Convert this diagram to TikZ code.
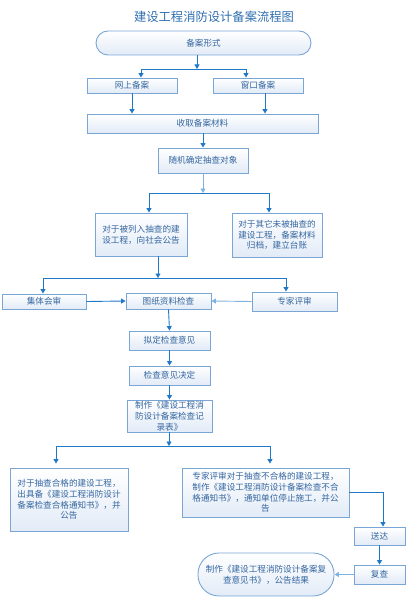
\documentclass[tikz,border=0pt]{standalone}
\usepackage{fontspec}
\setmainfont{Noto Sans CJK SC}
\usetikzlibrary{arrows.meta,calc}
\definecolor{bd}{HTML}{7AA6D6}
\definecolor{ln}{HTML}{1F78C8}
\definecolor{lnl}{HTML}{7FB2E0}
\definecolor{tx}{HTML}{3566A0}
\definecolor{fb}{HTML}{E2EBF7}
\definecolor{tt}{HTML}{2F6EB0}
\begin{document}
\begin{tikzpicture}[x=1pt,y=-1pt,
  box/.style={draw=bd,line width=0.9pt,top color=white,bottom color=fb,text=tx,
    font=\fontsize{8.6}{10.8}\selectfont,align=center,inner sep=1pt,anchor=center},
  arr/.style={draw=ln,line width=0.9pt,-{Triangle[width=5pt,length=4.5pt]},color=ln},
  arrl/.style={draw=lnl,line width=0.9pt,-{Triangle[width=5pt,length=4.5pt]},color=lnl},
  lnk/.style={draw=ln,line width=0.9pt}]
\useasboundingbox (0,0) rectangle (412,599);
\node[text=tt,font=\fontsize{12.3}{14}\selectfont] (title) at (214,17) {建设工程消防设计备案流程图};
\node[box,rounded corners=12pt,minimum width=215pt,minimum height=24pt] (form) at (203.5,43) {备案形式};
\node[box,minimum width=90pt,minimum height=15pt] (online) at (132,85.5) {网上备案};
\node[box,minimum width=90pt,minimum height=15pt] (window) at (258,85.5) {窗口备案};
\node[box,minimum width=231pt,minimum height=19pt] (collect) at (202.5,123.5) {收取备案材料};
\node[box,minimum width=90pt,minimum height=25pt] (random) at (203,160.5) {随机确定抽查对象};
\node[box,minimum width=92pt,minimum height=43pt] (listed) at (141,234.5) {对于被列入抽查的建\\设工程，向社会公告};
\node[box,minimum width=90pt,minimum height=44pt] (other) at (277,235) {对于其它未被抽查的\\建设工程，备案材料\\归档，建立台账};
\node[box,minimum width=84pt,minimum height=15pt] (collective) at (44,301.5) {集体会审};
\node[box,minimum width=85pt,minimum height=16pt] (drawing) at (168.5,301) {图纸资料检查};
\node[box,minimum width=85pt,minimum height=19pt] (expert) at (294.5,301.5) {专家评审};
\node[box,minimum width=81pt,minimum height=19pt] (draft) at (169.5,340.5) {拟定检查意见};
\node[box,minimum width=81pt,minimum height=19pt] (decide) at (169.5,375.5) {检查意见决定};
\node[box,minimum width=85pt,minimum height=32pt,inner sep=0pt] (record) at (169.5,416) {制作《建设工程消\\防设计备案检查记\\录表》};
\node[box,minimum width=118pt,minimum height=63pt] (pass) at (69,499.5) {对于抽查合格的建设工程，\\出具备《建设工程消防设计\\备案检查合格通知书》，并\\公告};
\node[box,minimum width=167pt,minimum height=49pt] (fail) at (265.5,492.5) {专家评审对于抽查不合格的建设工程，\\制作《建设工程消防设计备案检查不合\\格通知书》，通知单位停止施工，并公\\告};
\node[box,minimum width=51pt,minimum height=18pt] (deliver) at (379.5,536) {送达};
\node[box,minimum width=51pt,minimum height=19pt] (recheck) at (379.5,574.5) {复查};
\node[box,rounded corners=21pt,minimum width=136pt,minimum height=43pt] (result) at (266,574.5) {制作《建设工程消防设计备案复\\查意见书》，公告结果};
% junctions
\coordinate (j1) at (197,69);
\coordinate (j1l) at (141,69);
\coordinate (j1r) at (246,69);
\coordinate (ws) at (265,93);
\coordinate (j2) at (203,193);
\coordinate (j2l) at (149,193);
\coordinate (j2r) at (269,193);
\coordinate (j3) at (158,278);
\coordinate (j3l) at (43,278);
\coordinate (j3r) at (286,278);
\coordinate (j4) at (169,446);
\coordinate (j4l) at (56,446);
\coordinate (j4r) at (270,446);
\coordinate (j5) at (383,492);
% connectors
\draw[arr] (form.south -| j1) -- (j1);
\draw[lnk] (j1l) -- (j1r);
\draw[arr] (j1l) -- (j1l |- online.north);
\draw[arr] (j1r) -- (j1r |- window.north);
\draw[arr] (online.south) -- (online.south |- collect.north);
\draw[arr] (window.south -| ws) -- (ws |- collect.north);
\draw[arr] (collect.south -| random) -- (random.north);
\draw[arrl] (random.south) -- (j2);
\draw[lnk] (j2l) -- (j2r);
\draw[arr] (j2l) -- (j2l |- listed.north);
\draw[arr] (j2r) -- (j2r |- other.north);
\draw[arr] (listed.south -| j3) -- (j3);
\draw[lnk] (j3l) -- (j3r);
\draw[arr] (j3l) -- (j3l |- collective.north);
\draw[arr] (j3r) -- (j3r |- expert.north);
\draw[arr] (collective.east) -- (drawing.west);
\draw[arrl] (expert.west) -- (drawing.east);
\draw[arr] (drawing.south) -- (draft.north);
\draw[arr] (draft.south) -- (decide.north);
\draw[arr] (decide.south) -- (record.north);
\draw[arr] (record.south -| j4) -- (j4);
\draw[lnk] (j4l) -- (j4r);
\draw[arr] (j4l) -- ($(j4l |- pass.north)+(0,-4)$);
\draw[arr] (j4r) -- ($(j4r |- fail.north)+(0,-4)$);
\draw[arr] (fail.east |- j5) -- (j5) -- (j5 |- deliver.north);
\draw[arr] (deliver.south) -- (recheck.north);
\draw[arrl] (recheck.west) -- (result.east);
\end{tikzpicture}
\end{document}
